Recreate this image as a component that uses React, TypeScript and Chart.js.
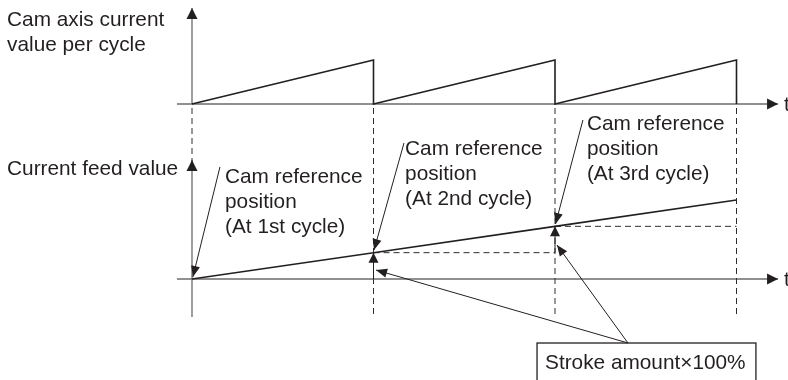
import React, { useEffect, useRef } from "react";
import { Chart, registerables } from "chart.js";

Chart.register(...registerables);

// ---- data ----
const cycles = [0, 1, 2, 3];
const camPeakPercent = [100, 100, 100]; // cam axis current value per cycle reaches 100% at the end of each cycle
const feedStrokes = [0, 1, 2, 3]; // current feed value (stroke units) at each cycle boundary
const camAxisLabel = ["Cam axis current", "value per cycle"];
const feedAxisLabel = "Current feed value";
const refLabels = [
  ["Cam reference", "position", "(At 1st cycle)"],
  ["Cam reference", "position", "(At 2nd cycle)"],
  ["Cam reference", "position", "(At 3rd cycle)"],
];
const strokeLabel = "Stroke amount×100%";
const timeLabel = "t";

// ---- scale layout (units -> canvas) ----
const W = 788;
const H = 380;
const CYCLE_PX = 181.5;
const ORIGIN_X = 192;
const CAM_ZERO_PX = 104;
const CAM_PX_PER_PCT = 0.44;
const FEED_ZERO_PX = 279;
const FEED_PX_PER_STROKE = 26.33;

const X_MIN = -ORIGIN_X / CYCLE_PX;
const X_MAX = (W - ORIGIN_X) / CYCLE_PX;
const CAM_MIN = -(H - CAM_ZERO_PX) / CAM_PX_PER_PCT;
const CAM_MAX = CAM_ZERO_PX / CAM_PX_PER_PCT;
const FEED_MIN = -(H - FEED_ZERO_PX) / FEED_PX_PER_STROKE;
const FEED_MAX = FEED_ZERO_PX / FEED_PX_PER_STROKE;

const INK = "#231f20";
const AXIS = "#6b6b6b";
const FONT = "20.8px 'Liberation Sans', Arial, sans-serif";

function arrowHead(ctx: CanvasRenderingContext2D, fx: number, fy: number, tx: number, ty: number, len = 11, half = 5) {
  const a = Math.atan2(ty - fy, tx - fx);
  const bx = tx - len * Math.cos(a);
  const by = ty - len * Math.sin(a);
  const nx = -Math.sin(a) * half;
  const ny = Math.cos(a) * half;
  ctx.beginPath();
  ctx.moveTo(tx, ty);
  ctx.lineTo(bx + nx, by + ny);
  ctx.lineTo(bx - nx, by - ny);
  ctx.closePath();
  ctx.fill();
}

function arrowLine(ctx: CanvasRenderingContext2D, fx: number, fy: number, tx: number, ty: number, len = 11, half = 5) {
  ctx.beginPath();
  ctx.moveTo(fx, fy);
  ctx.lineTo(tx, ty);
  ctx.stroke();
  arrowHead(ctx, fx, fy, tx, ty, len, half);
}

const diagramPlugin = {
  id: "camDiagram",
  beforeDatasetsDraw(chart: any) {
    const ctx: CanvasRenderingContext2D = chart.ctx;
    const sx = chart.scales.x;
    const sc = chart.scales.yCam;
    const sf = chart.scales.yFeed;
    const px = (t: number) => sx.getPixelForValue(t);
    const pc = (v: number) => sc.getPixelForValue(v);
    const pf = (s: number) => sf.getPixelForValue(s);
    ctx.save();
    // axes
    ctx.strokeStyle = AXIS;
    ctx.fillStyle = INK;
    ctx.lineWidth = 1.3;
    const xStart = -0.083;
    const xTip = 3.229;
    arrowLine(ctx, px(xStart), pc(0), px(xTip), pc(0), 11, 5.5);
    arrowLine(ctx, px(0), pc(0), px(0), pc(218), 11, 5.5);
    arrowLine(ctx, px(xStart), pf(0), px(xTip), pf(0), 11, 5.5);
    arrowLine(ctx, px(0), pf(-1.44), px(0), pf(4.52), 11, 5.5);

    // dashed guides
    ctx.strokeStyle = "#2e2e2e";
    ctx.lineWidth = 1;
    ctx.setLineDash([6, 4]);
    ctx.beginPath();
    ctx.moveTo(px(cycles[0]), pc(0) + 4);
    ctx.lineTo(px(cycles[0]), pf(4.45));
    for (let i = 1; i < cycles.length; i++) {
      ctx.moveTo(px(cycles[i]), pc(0) + 4);
      ctx.lineTo(px(cycles[i]), pf(-1.44));
    }
    for (let i = 1; i < cycles.length - 1; i++) {
      ctx.moveTo(px(cycles[i]), pf(feedStrokes[i]));
      ctx.lineTo(px(cycles[i + 1]), pf(feedStrokes[i]));
    }
    ctx.stroke();
    ctx.setLineDash([]);
    ctx.restore();
  },
  afterDatasetsDraw(chart: any) {
    const ctx: CanvasRenderingContext2D = chart.ctx;
    const sx = chart.scales.x;
    const sc = chart.scales.yCam;
    const sf = chart.scales.yFeed;
    const px = (t: number) => sx.getPixelForValue(t);
    const pc = (v: number) => sc.getPixelForValue(v);
    const pf = (s: number) => sf.getPixelForValue(s);
    ctx.save();
    ctx.strokeStyle = INK;
    ctx.fillStyle = INK;
    ctx.lineWidth = 1;

    // stroke amount arrows (vertical)
    for (let i = 1; i < cycles.length - 1; i++) {
      arrowLine(ctx, px(cycles[i]), pf(feedStrokes[i - 1]), px(cycles[i]), pf(feedStrokes[i]), 10, 5);
    }

    // cam reference position callouts
    const refCallouts = [
      { from: [0.154, 4.254], to: [0.005, 0.08] },
      { from: [1.168, 5.165], to: [1.003, 1.1] },
      { from: [2.154, 6.04], to: [2.003, 2.09] },
    ];
    refCallouts.forEach((c) => arrowLine(ctx, px(c.from[0]), pf(c.from[1]), px(c.to[0]), pf(c.to[1]), 11, 4.5));

    // stroke amount callouts
    const boxAnchor = [2.402, -2.431];
    const strokeTips = [
      [1.014, 0.34],
      [2.011, 1.29],
    ];
    strokeTips.forEach((tip) => arrowLine(ctx, px(boxAnchor[0]), pf(boxAnchor[1]), px(tip[0]), pf(tip[1]), 11, 4.5));

    // stroke label box
    ctx.lineWidth = 1.3;
    const bl = px(1.901);
    const br = px(3.107);
    const bt = pf(-2.431);
    ctx.strokeRect(bl, bt, br - bl, H + 20 - bt);

    // texts
    ctx.font = FONT;
    ctx.fillStyle = INK;
    ctx.textAlign = "left";
    ctx.textBaseline = "alphabetic";
    const LINE = 25;
    const leftX = px(-1.019);
    camAxisLabel.forEach((s, i) => ctx.fillText(s, leftX, pc(177.3) + i * LINE));
    ctx.fillText(feedAxisLabel, leftX, pf(3.95));
    const refAnchors = [
      [0.182, 3.646],
      [1.174, 4.709],
      [2.176, 5.659],
    ];
    refLabels.forEach((lines, k) => {
      lines.forEach((s, i) => ctx.fillText(s, px(refAnchors[k][0]), pf(refAnchors[k][1]) + i * LINE));
    });
    ctx.fillText(strokeLabel, px(1.945), pf(-3.418));
    ctx.textBaseline = "middle";
    ctx.fillText(timeLabel, px(3.262), pc(0) + 1);
    ctx.fillText(timeLabel, px(3.262), pf(0) + 1);
    ctx.restore();
  },
};

export default function App() {
  const ref = useRef<HTMLCanvasElement | null>(null);
  useEffect(() => {
    document.body.style.margin = "0";
    const canvas = ref.current;
    if (!canvas) return;
    const camPoints: { x: number; y: number }[] = [{ x: cycles[0], y: 0 }];
    for (let i = 0; i < camPeakPercent.length; i++) {
      camPoints.push({ x: cycles[i + 1], y: camPeakPercent[i] });
      camPoints.push({ x: cycles[i + 1], y: 0 });
    }
    const feedPoints = cycles.map((c, i) => ({ x: c, y: feedStrokes[i] }));
    const chart = new Chart(canvas, {
      type: "scatter",
      data: {
        datasets: [
          {
            data: camPoints,
            showLine: true,
            borderColor: INK,
            borderWidth: 1.6,
            pointRadius: 0,
            yAxisID: "yCam",
          },
          {
            data: feedPoints,
            showLine: true,
            borderColor: INK,
            borderWidth: 1.6,
            pointRadius: 0,
            yAxisID: "yFeed",
          },
        ],
      },
      options: {
        animation: false,
        responsive: false,
        devicePixelRatio: 1,
        layout: { padding: 0 },
        plugins: { legend: { display: false }, tooltip: { enabled: false } },
        scales: {
          x: { type: "linear", display: false, min: X_MIN, max: X_MAX },
          yCam: { type: "linear", display: false, min: CAM_MIN, max: CAM_MAX },
          yFeed: { type: "linear", display: false, min: FEED_MIN, max: FEED_MAX },
        },
      },
      plugins: [diagramPlugin],
    });
    return () => chart.destroy();
  }, []);
  return (
    <div style={{ width: W, height: H, background: "#fff" }}>
      <canvas ref={ref} width={W} height={H} style={{ display: "block" }} />
    </div>
  );
}
